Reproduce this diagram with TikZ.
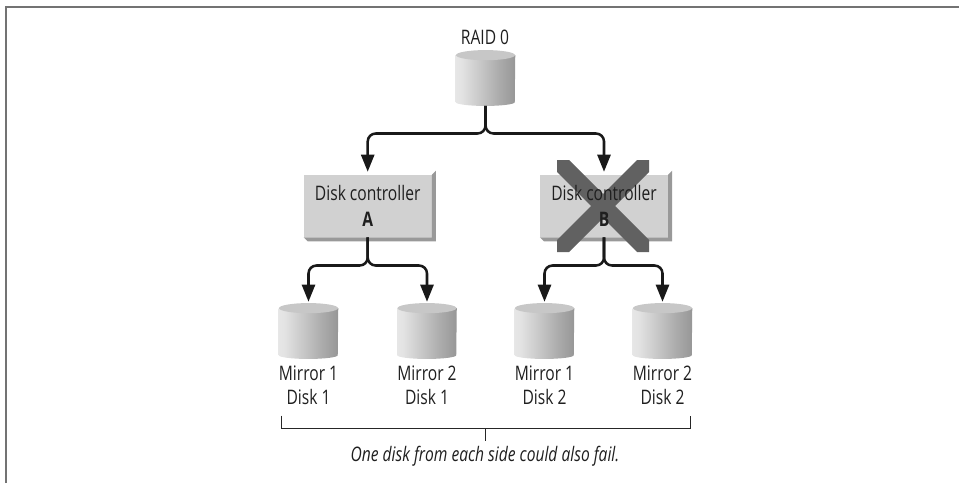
\documentclass[tikz,border=0pt]{standalone}
\usepackage{fontspec}
\setmainfont[FakeStretch=0.78]{Open Sans}
\usetikzlibrary{arrows.meta}
\pgfdeclarehorizontalshading{diskshade}{100bp}{
  color(0bp)=(black!35); color(22bp)=(black!9); color(30bp)=(black!11);
  color(60bp)=(black!32); color(90bp)=(black!50); color(100bp)=(black!42)}

\begin{document}
\begin{tikzpicture}[x=0.75pt,y=-0.75pt,
    disk/.style={minimum width=44.25pt,minimum height=41.5pt,inner sep=0pt},
    ctrl/.style={minimum width=95.75pt,minimum height=46.5pt,inner sep=0pt,fill=ctrlface},
    lbl/.style={font=\fontsize{15}{18}\selectfont,align=center,text=black!88},
    link/.style={line width=1.9pt,rounded corners=6pt,black!90,-{Triangle[length=12.75pt,width=9.75pt]}}]
  \colorlet{ctrlface}{black!18}
  \useasboundingbox (0,0) rectangle (959,483);
  \draw[line width=1.5pt,black!55] (6,483) -- (6,6.7) -- (959,6.7);

  % disks
  \foreach \n/\x/\y in {raid/485.5/78,mAa/308.5/331,mBa/427/331,mAb/544.5/331,mBb/662.5/331} {
    \node[disk] (\n) at (\x,\y) {};
    \shade[shading=diskshade] ([yshift=-3.8pt]\n.north west) -- ([yshift=2.8pt]\n.south west)
      arc[x radius=22.125pt,y radius=2.8pt,start angle=180,end angle=360]
      -- ([yshift=-3.8pt]\n.north east) -- cycle;
    \fill[black!22] ([yshift=-3.8pt]\n.north) ellipse[x radius=22.125pt,y radius=3.8pt];
  }

  % controllers
  \foreach \n/\x in {ctrlA/367.7,ctrlB/604} {
    \node[ctrl] (\n) at (\x,206) {};
    \fill[black!40] (\n.north east) -- ++(3pt,3pt) -- ([shift={(3pt,-3pt)}]\n.south east)
      -- ([shift={(3pt,-3pt)}]\n.south west) -- (\n.south west) -- (\n.south east) -- cycle;
  }

  % the cross over controller B
  \fill[black!62] (557,160) -- (569,160) -- (603,194) -- (637,160) -- (649,160) -- (649,172)
    -- (615,206) -- (649,240) -- (649,252) -- (637,252) -- (603,218) -- (569,252)
    -- (557,252) -- (557,240) -- (591,206) -- (557,172) -- cycle;

  \node[lbl] (lblA) at (ctrlA) {Disk controller\\[1pt]\textbf{A}};
  \node[lbl] (lblB) at (ctrlB) {Disk controller\\[1pt]\textbf{B}};
  \node[lbl] (lblraid) at (485,37) {RAID 0};
  \node[lbl] (lblAa) at (308.5,385) {Mirror 1\\Disk 1};
  \node[lbl] (lblBa) at (427,385) {Mirror 2\\Disk 1};
  \node[lbl] (lblAb) at (544.5,385) {Mirror 1\\Disk 2};
  \node[lbl] (lblBb) at (662.5,385) {Mirror 2\\Disk 2};

  % connectors
  \coordinate (busT) at (485.5,133.5);
  \coordinate (busA) at (367.7,265.5);
  \coordinate (busB) at (604,265.5);
  \draw[link,shorten >=2.25pt] (raid.south) -- (busT) -| (ctrlA.north);
  \draw[link,shorten >=2.25pt] (raid.south) -- (busT) -| (ctrlB.north);
  \draw[link,shorten >=1pt] (ctrlA.south) -- (busA) -| (mAa.north);
  \draw[link,shorten >=1pt] (ctrlA.south) -- (busA) -| (mBa.north);
  \draw[link,shorten >=1pt] (ctrlB.south) -- (busB) -| (mAb.north);
  \draw[link,shorten >=1pt] (ctrlB.south) -- (busB) -| (mBb.north);

  % bracket
  \coordinate (brL) at (281.7,415.5);
  \coordinate (brR) at (690,415.5);
  \coordinate (brM) at (485.7,428);
  \node[lbl,font=\fontsize{15}{18}\selectfont\itshape] (note) at (485,456) {One disk from each side could also fail.};
  \draw[line width=0.75pt,black!85] (brL) |- (brM) -| (brR);
  \draw[line width=0.75pt,black!85] (brM) -- (note.north -| brM);
\end{tikzpicture}
\end{document}
